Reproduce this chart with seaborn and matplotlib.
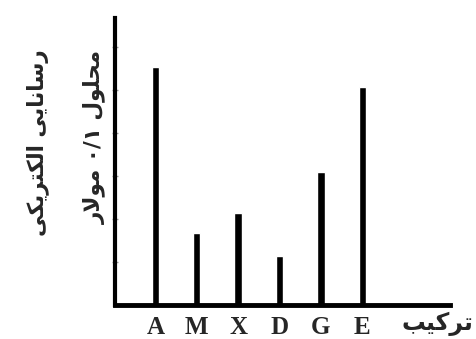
"""
Bar chart - electrical conductivity of 0.1 molar solutions
"""
import matplotlib
matplotlib.use("Agg")
import matplotlib.pyplot as plt
import seaborn as sns
import pandas as pd

# Data
compounds = ["A", "M", "X", "D", "G", "E"]
conductivity = [5.53, 1.67, 2.14, 1.14, 3.09, 5.07]
y_ticks = [1, 2, 3, 4, 5, 6]

Y_LABEL_1 = "رسانایی الکتریکی"
Y_LABEL_2 = "محلول ۰/۱ مولار"
X_LABEL = "ترکیب"

# Arabic presentation forms: isolated, final, initial, medial
FORMS = {
    "ا": ("\uFE8D", "\uFE8E", None, None),
    "ب": ("\uFE8F", "\uFE90", "\uFE91", "\uFE92"),
    "ت": ("\uFE95", "\uFE96", "\uFE97", "\uFE98"),
    "ح": ("\uFEA1", "\uFEA2", "\uFEA3", "\uFEA4"),
    "ر": ("\uFEAD", "\uFEAE", None, None),
    "س": ("\uFEB1", "\uFEB2", "\uFEB3", "\uFEB4"),
    "ل": ("\uFEDD", "\uFEDE", "\uFEDF", "\uFEE0"),
    "م": ("\uFEE1", "\uFEE2", "\uFEE3", "\uFEE4"),
    "ن": ("\uFEE5", "\uFEE6", "\uFEE7", "\uFEE8"),
    "و": ("\uFEED", "\uFEEE", None, None),
    "ک": ("\uFB8E", "\uFB8F", "\uFB90", "\uFB91"),
    "ی": ("\uFBFC", "\uFBFD", "\uFBFE", "\uFBFF"),
}


def shape_word(word):
    """Join letters and return them in visual (left to right) order"""
    out = []
    i = 0
    prev_joins = False
    while i < len(word):
        c = word[i]
        nxt = word[i + 1] if i + 1 < len(word) else None
        if c == "ل" and nxt == "ا":
            out.append("\uFEFC" if prev_joins else "\uFEFB")
            prev_joins = False
            i += 2
            continue
        if c not in FORMS:
            out.append(c)
            prev_joins = False
            i += 1
            continue
        isol, fin, init, med = FORMS[c]
        next_joins = init is not None and nxt in FORMS
        if prev_joins and next_joins:
            out.append(med)
        elif prev_joins:
            out.append(fin)
        elif next_joins:
            out.append(init)
        else:
            out.append(isol)
        prev_joins = init is not None
        i += 1
    return "".join(out)[::-1]


def shape_line(text):
    tokens = []
    for tok in text.split(" "):
        if any(ch in FORMS for ch in tok):
            tokens.append(shape_word(tok))
        else:
            tokens.append(tok)
    return " ".join(tokens[::-1])


df = pd.DataFrame({"compound": compounds, "conductivity": conductivity})

sns.set_style("white")
plt.rcParams["font.family"] = ["DejaVu Sans"]

fig = plt.figure(figsize=(4.76, 3.39), dpi=100)
ax = fig.add_axes([115 / 476, 34 / 339, 335 / 476, 287 / 339])

sns.barplot(data=df, x="compound", y="conductivity", color="black",
            width=0.18, ax=ax)

ax.set_xlim(-0.976, 7.12)
ax.set_ylim(0, 6.67)
ax.set_yticks(y_ticks)
ax.set_yticklabels([])
ax.tick_params(axis="y", direction="inout", length=5, width=1,
               color="#9a9a9a", left=True)
ax.tick_params(axis="x", length=0, pad=8)
ax.set_xticks(range(len(compounds)))
ax.set_xticklabels(compounds, fontfamily="Liberation Serif",
                   fontweight="bold", fontsize=18)
ax.set_xlabel("")
ax.set_ylabel("")

for side in ["top", "right"]:
    ax.spines[side].set_visible(False)
ax.spines["left"].set_linewidth(3)
ax.spines["bottom"].set_linewidth(3.5)
ax.spines["left"].set_color("black")
ax.spines["bottom"].set_color("black")

fig.text(38 / 476, 1 - 143 / 339, shape_line(Y_LABEL_1), rotation=90,
         ha="center", va="center", fontsize=15.5, fontweight="bold")
fig.text(95 / 476, 1 - 137 / 339, shape_line(Y_LABEL_2), rotation=90,
         ha="center", va="center", fontsize=15.5, fontweight="bold")
fig.text(437 / 476, 1 - 324 / 339, shape_line(X_LABEL),
         ha="center", va="center", fontsize=17, fontweight="bold")

plt.savefig("out.png", dpi=100)
plt.close("all")
